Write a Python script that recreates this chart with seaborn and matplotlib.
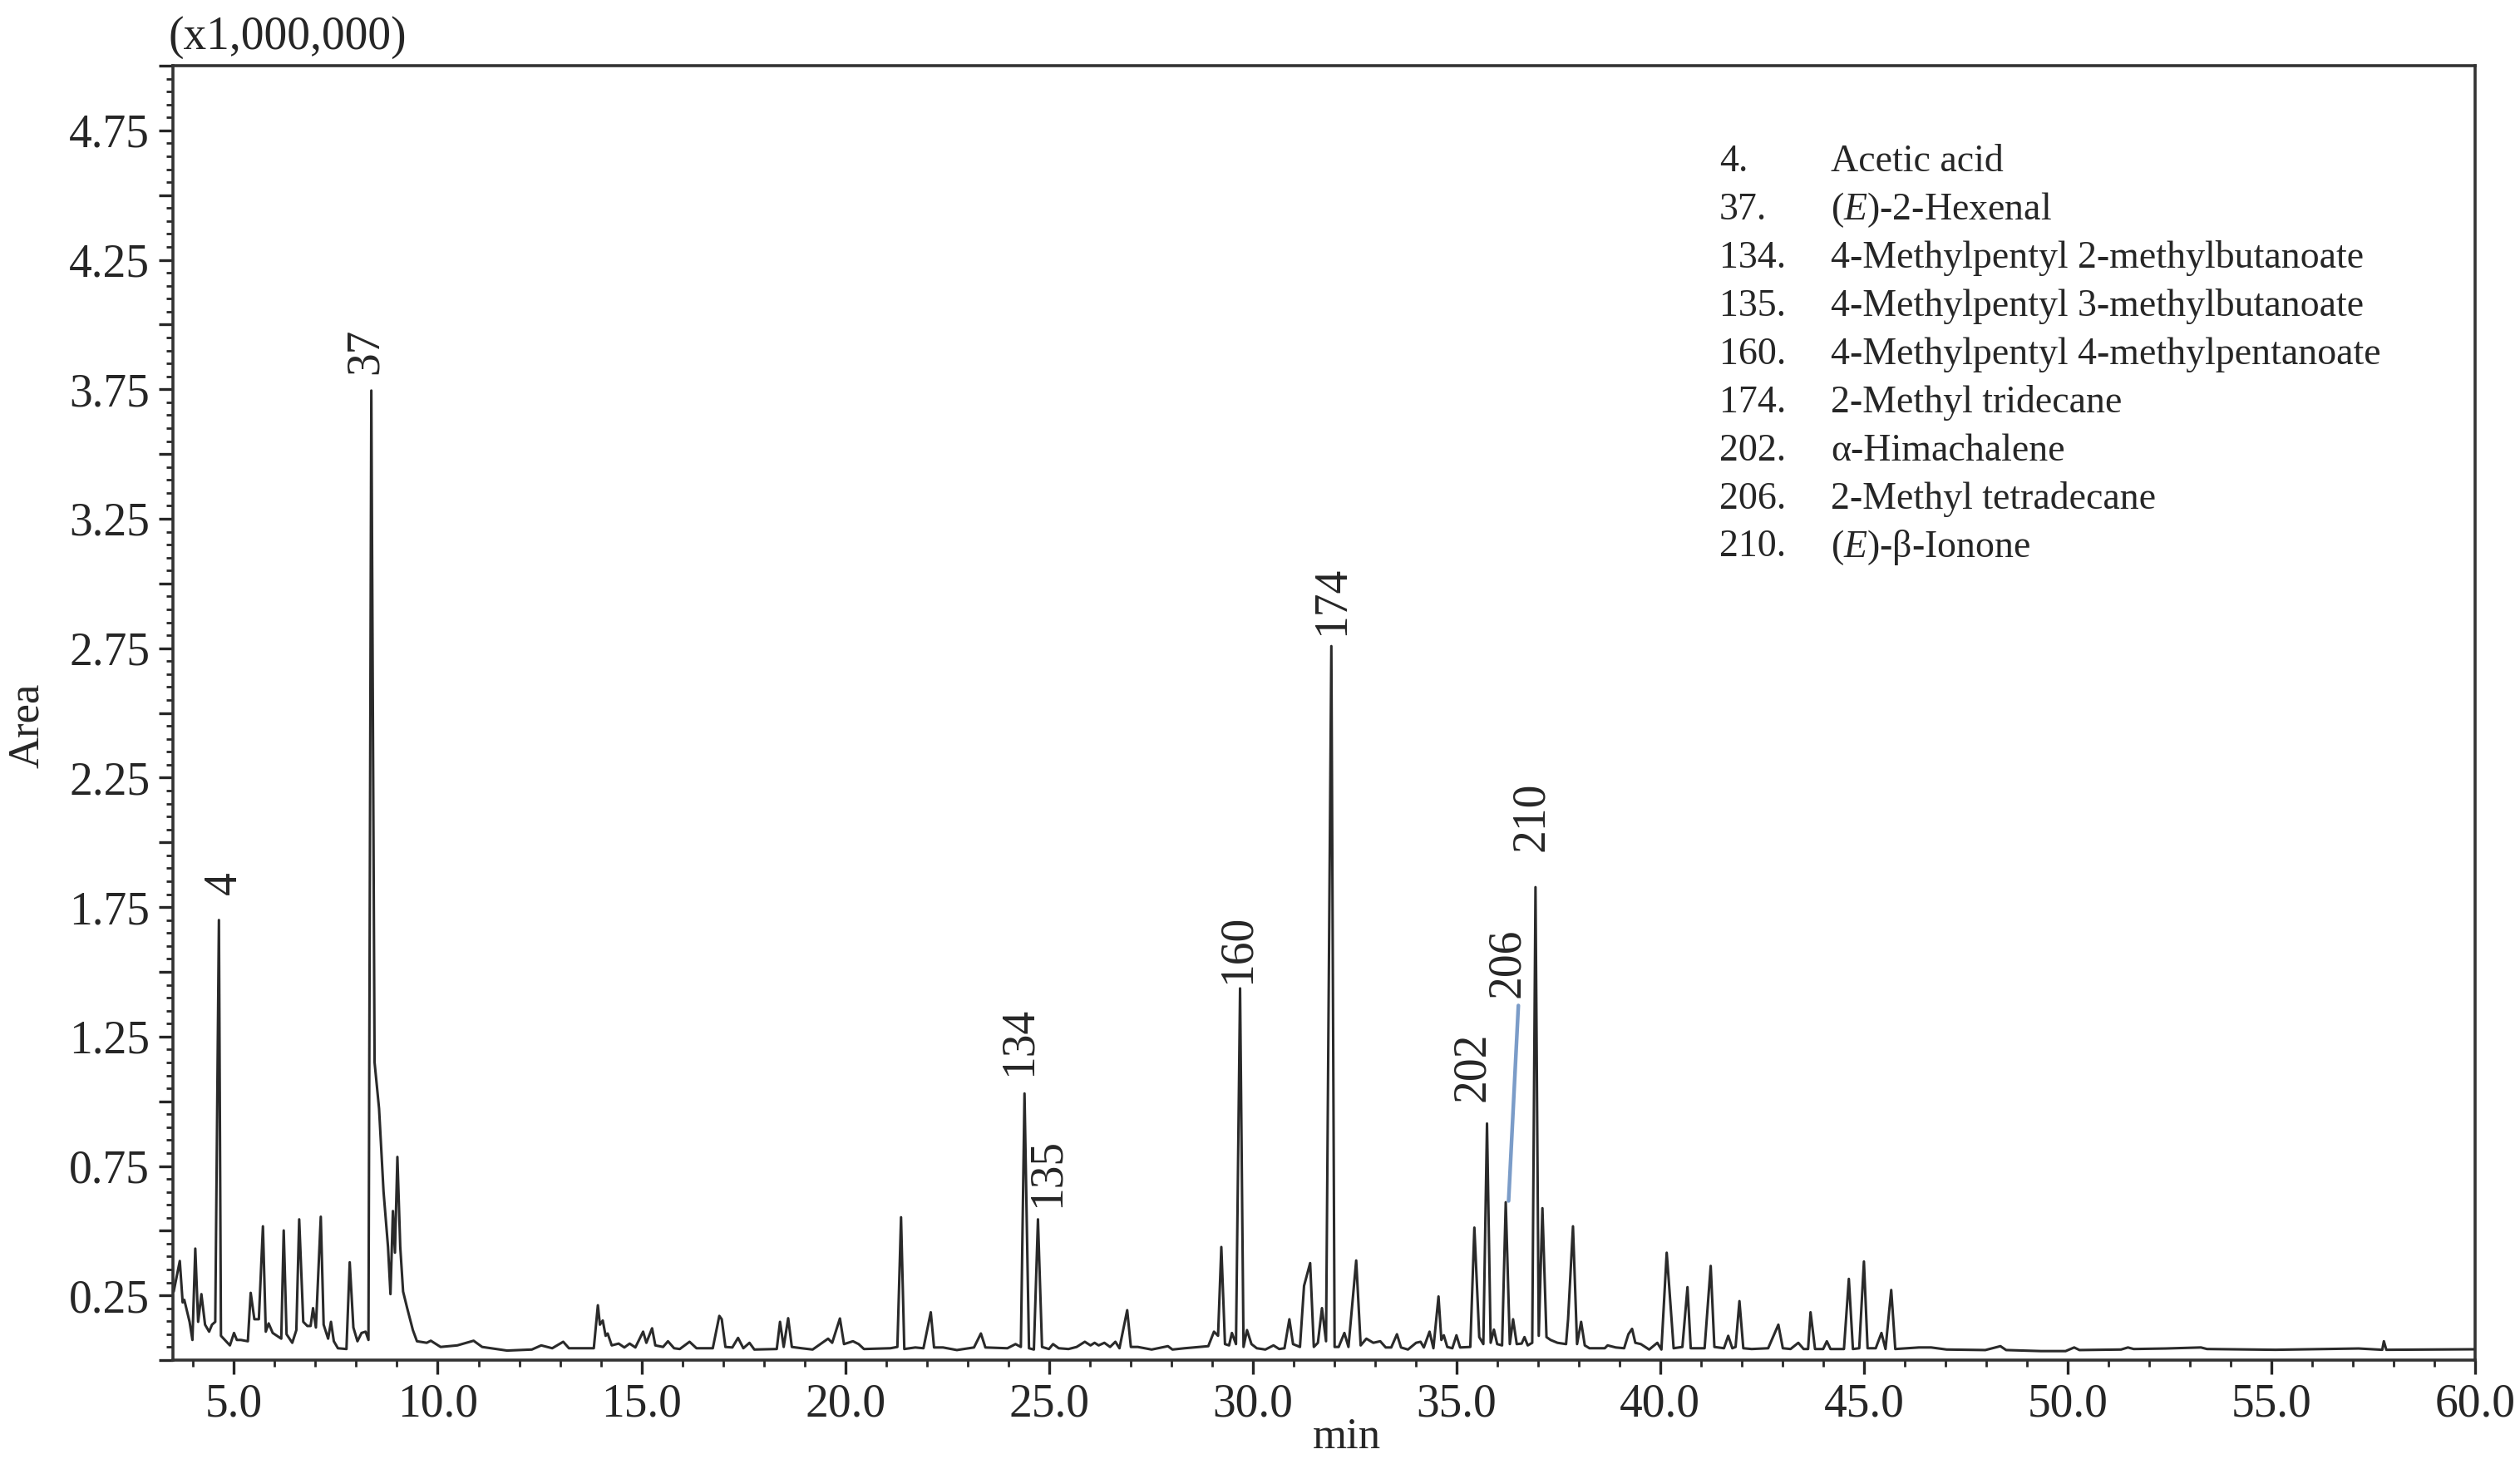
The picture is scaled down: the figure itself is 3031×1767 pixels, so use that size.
import numpy as np
import pandas as pd
import matplotlib
matplotlib.use("Agg")
import matplotlib.pyplot as plt
import seaborn as sns
from matplotlib.ticker import MultipleLocator, FuncFormatter

# retention time (min) and detector area (x1,000,000), vertex by vertex
rt_a = [3.52, 3.67, 3.74, 3.78, 3.91, 3.98, 4.05, 4.12, 4.20, 4.29, 4.39, 4.46, 4.54, 4.63, 4.68,
        4.90, 5.00, 5.07, 5.17, 5.34, 5.41, 5.50, 5.61, 5.71, 5.78, 5.85, 5.95, 6.16, 6.22, 6.29,
        6.43, 6.53, 6.60, 6.70, 6.80, 6.88, 6.94, 7.01, 7.13, 7.20, 7.31, 7.38, 7.45, 7.55, 7.76,
        7.84, 7.93, 8.03, 8.13, 8.23, 8.30, 8.37, 8.45, 8.56, 8.67, 8.78, 8.84, 8.90, 8.95, 9.01,
        9.08, 9.15, 9.25, 9.39, 9.49, 9.73, 9.83, 10.07, 10.48, 10.88, 11.09, 11.43, 11.70, 12.31]
area_a = [0.265, 0.383, 0.223, 0.233, 0.148, 0.078, 0.431, 0.148, 0.255, 0.137, 0.110, 0.137, 0.148, 1.700, 0.094,
          0.057, 0.105, 0.078, 0.078, 0.073, 0.260, 0.158, 0.158, 0.517, 0.110, 0.142, 0.105, 0.083, 0.501, 0.100,
          0.067, 0.116, 0.544, 0.148, 0.132, 0.132, 0.201, 0.126, 0.554, 0.137, 0.083, 0.148, 0.073, 0.046, 0.043,
          0.378, 0.126, 0.073, 0.105, 0.110, 0.078, 3.745, 1.150, 0.972, 0.651, 0.437, 0.255, 0.576, 0.415, 0.785,
          0.437, 0.265, 0.201, 0.116, 0.073, 0.067, 0.075, 0.051, 0.057, 0.075, 0.051, 0.043, 0.037, 0.041]

rt_b = [12.54, 12.81, 13.08, 13.22, 13.83, 13.93, 13.98, 14.05, 14.12, 14.17, 14.27, 14.44, 14.58, 14.71,
        14.85, 15.04, 15.12, 15.26, 15.34, 15.53, 15.65, 15.80, 15.94, 16.18, 16.35, 16.75, 16.91, 16.97,
        17.06, 17.23, 17.37, 17.50, 17.65, 17.77, 18.32, 18.40, 18.49, 18.60, 18.69, 18.93, 19.20, 19.58,
        19.68, 19.87, 19.97, 20.19, 20.33, 20.46, 21.11, 21.28, 21.37, 21.45, 21.72, 21.92, 22.10, 22.18,
        22.40, 22.74]
area_b = [0.057, 0.046, 0.071, 0.046, 0.046, 0.212, 0.137, 0.153, 0.094, 0.103, 0.057, 0.064, 0.049, 0.064,
          0.049, 0.110, 0.067, 0.123, 0.057, 0.051, 0.073, 0.046, 0.043, 0.071, 0.046, 0.046, 0.171, 0.158,
          0.051, 0.049, 0.086, 0.046, 0.067, 0.041, 0.043, 0.148, 0.051, 0.162, 0.051, 0.046, 0.041, 0.083,
          0.067, 0.161, 0.062, 0.073, 0.062, 0.043, 0.046, 0.051, 0.552, 0.043, 0.049, 0.046, 0.185, 0.049,
          0.049, 0.039]

rt_c = [23.16, 23.33, 23.44, 23.98, 24.18, 24.31, 24.40, 24.51, 24.63, 24.73, 24.83, 25.00, 25.10, 25.24,
        25.48, 25.68, 25.88, 26.02, 26.12, 26.22, 26.36, 26.50, 26.63, 26.73, 26.92, 27.01, 27.18, 27.52,
        27.92, 28.03, 28.33, 28.91, 29.05, 29.15, 29.23, 29.32, 29.42, 29.49, 29.59, 29.69, 29.775, 29.86,
        29.97, 30.10, 30.31, 30.51, 30.65, 30.78, 30.90, 30.99, 31.16, 31.26, 31.41, 31.50, 31.60, 31.70,
        31.80, 31.93, 32.01, 32.11, 32.25, 32.35, 32.54, 32.65, 32.79, 32.96]
area_c = [0.049, 0.103, 0.049, 0.046, 0.062, 0.051, 1.030, 0.046, 0.041, 0.544, 0.051, 0.043, 0.062, 0.046,
          0.043, 0.051, 0.071, 0.057, 0.067, 0.057, 0.067, 0.051, 0.071, 0.046, 0.193, 0.051, 0.051, 0.041,
          0.054, 0.041, 0.046, 0.054, 0.110, 0.094, 0.437, 0.062, 0.057, 0.105, 0.062, 1.436, 0.051, 0.116,
          0.062, 0.046, 0.041, 0.057, 0.043, 0.046, 0.158, 0.062, 0.051, 0.287, 0.375, 0.051, 0.067, 0.201,
          0.073, 2.758, 0.051, 0.051, 0.105, 0.051, 0.385, 0.057, 0.083, 0.067]

rt_d = [33.13, 33.265, 33.40, 33.54, 33.64, 33.81, 34.01, 34.12, 34.20, 34.34, 34.435, 34.56, 34.63,
        34.69, 34.775, 34.90, 35.00, 35.09, 35.34, 35.44, 35.56, 35.66, 35.75, 35.84, 35.92, 36.00, 36.12,
        36.21, 36.31, 36.39, 36.48, 36.60, 36.67, 36.75, 36.86, 36.94, 37.02, 37.11, 37.21, 37.31, 37.48,
        37.69, 37.74, 37.86, 37.96, 38.06, 38.15, 38.265, 38.64, 38.71, 38.91, 39.115, 39.22, 39.31, 39.39,
        39.525, 39.73, 39.93, 40.03, 40.16, 40.22, 40.33, 40.545, 40.67, 40.75, 41.09, 41.24, 41.33,
        41.565, 41.67, 41.77, 41.85, 41.945, 42.04, 42.245, 42.65, 42.90, 43.01, 43.20]
area_d = [0.073, 0.049, 0.049, 0.100, 0.049, 0.041, 0.067, 0.071, 0.049, 0.110, 0.046, 0.246, 0.078,
          0.096, 0.051, 0.046, 0.096, 0.049, 0.051, 0.512, 0.089, 0.062, 0.914, 0.067, 0.118, 0.062, 0.057,
          0.610, 0.062, 0.158, 0.062, 0.064, 0.089, 0.057, 0.067, 1.827, 0.094, 0.587, 0.089, 0.078, 0.067,
          0.062, 0.158, 0.517, 0.062, 0.148, 0.057, 0.046, 0.046, 0.057, 0.049, 0.046, 0.100, 0.121, 0.067,
          0.062, 0.041, 0.067, 0.041, 0.415, 0.287, 0.046, 0.051, 0.282, 0.046, 0.046, 0.364, 0.051,
          0.046, 0.094, 0.046, 0.051, 0.228, 0.046, 0.043, 0.046, 0.137, 0.046, 0.043]

rt_e = [43.39, 43.52, 43.63, 43.69, 43.80, 44.00, 44.09, 44.18, 44.51, 44.63, 44.73, 44.885, 45.00,
        45.09, 45.29, 45.43, 45.53, 45.67, 45.77, 46.075, 46.35, 46.65, 47.03, 47.98, 48.35, 48.49, 49.34,
        49.95, 50.16, 50.29, 51.31, 51.48, 51.62, 52.40, 53.27, 53.42, 55.10, 57.14, 57.72, 57.76, 57.82,
        60.00]
area_e = [0.067, 0.043, 0.043, 0.185, 0.043, 0.043, 0.073, 0.043, 0.043, 0.314, 0.043, 0.046, 0.381,
          0.046, 0.046, 0.105, 0.043, 0.271, 0.043, 0.046, 0.049, 0.049, 0.041, 0.039, 0.054, 0.039, 0.035,
          0.035, 0.049, 0.039, 0.041, 0.049, 0.043, 0.045, 0.049, 0.043, 0.040, 0.045, 0.040, 0.073, 0.040,
          0.042]

# labelled peaks
peak_ids = ["4", "37", "134", "135", "160", "174", "202", "206", "210"]
peak_names = ["Acetic acid", "($\\mathit{E}$)-2-Hexenal", "4-Methylpentyl 2-methylbutanoate",
              "4-Methylpentyl 3-methylbutanoate", "4-Methylpentyl 4-methylpentanoate",
              "2-Methyl tridecane", "\u03b1-Himachalene", "2-Methyl tetradecane",
              "($\\mathit{E}$)-\u03b2-Ionone"]

# where each number is written (rt, area at the foot of the rotated text)
label_rt = [4.77, 8.24, 24.26, 24.95, 29.63, 31.95, 35.40, 36.24, 36.85]
label_area = [1.80, 3.81, 1.10, 0.59, 1.455, 2.80, 1.00, 1.40, 1.965]
# leader line from label 206 down to its peak
leader_rt = [36.28, 36.52]
leader_area = [0.615, 1.37]

trace = pd.DataFrame({
    "min": rt_a + rt_b + rt_c + rt_d + rt_e,
    "Area": area_a + area_b + area_c + area_d + area_e,
})

sns.set_style("ticks")
plt.rcParams["font.family"] = ["Liberation Serif", "DejaVu Serif"]
plt.rcParams["mathtext.fontset"] = "custom"
plt.rcParams["mathtext.rm"] = "Liberation Serif"
plt.rcParams["mathtext.it"] = "Liberation Serif:italic"

ink = "#262626"
fig = plt.figure(figsize=(15.155, 8.835), dpi=200)
ax = fig.add_axes([0.0686, 0.0741, 0.9136, 0.8812])

sns.lineplot(data=trace, x="min", y="Area", ax=ax, color="#2a2a2a", lw=1.1,
             sort=False, estimator=None)
ax.plot(leader_rt, leader_area, color="#7b9cc8", lw=1.6)

for pid, x, y in zip(peak_ids, label_rt, label_area):
    ax.text(x, y, pid, rotation=90, ha="center", va="bottom", fontsize=20, color=ink)

for i, (pid, name) in enumerate(zip(peak_ids, peak_names)):
    yy = 0.9256 - i * 0.0372
    ax.text(0.6717, yy, pid + ".", transform=ax.transAxes, ha="left", va="center",
            fontsize=16.5, color=ink)
    ax.text(0.7201, yy, name, transform=ax.transAxes, ha="left", va="center",
            fontsize=16.5, color=ink)

ax.set_xlim(3.5, 60.0)
ax.set_ylim(0, 5.0)

ax.xaxis.set_major_locator(MultipleLocator(5))
ax.xaxis.set_minor_locator(MultipleLocator(1))
ax.xaxis.set_major_formatter(FuncFormatter(lambda v, p: f"{v:.1f}"))
ax.yaxis.set_major_locator(MultipleLocator(0.25))
ax.yaxis.set_minor_locator(MultipleLocator(0.05))


def ylab(v, p):
    k = (v - 0.25) / 0.5
    return f"{v:.2f}" if abs(k - round(k)) < 1e-6 and v < 4.9 else ""


ax.yaxis.set_major_formatter(FuncFormatter(ylab))
ax.tick_params(which="major", direction="out", length=6, width=1.2, labelsize=20,
               colors=ink, pad=4)
ax.tick_params(which="minor", direction="out", length=3, width=1.0, colors=ink)

for s in ax.spines.values():
    s.set_linewidth(1.3)
    s.set_color("#333333")

ax.set_xlabel("min", fontsize=19, color=ink)
ax.set_ylabel("Area", fontsize=19, color=ink)
ax.xaxis.set_label_coords(0.51, -0.0445)
ax.yaxis.set_label_coords(-0.0545, 0.49)
ax.text(-0.002, 1.022, "(x1,000,000)", transform=ax.transAxes, ha="left", va="center",
        fontsize=20, color=ink)

fig.savefig("out.png", dpi=200)
